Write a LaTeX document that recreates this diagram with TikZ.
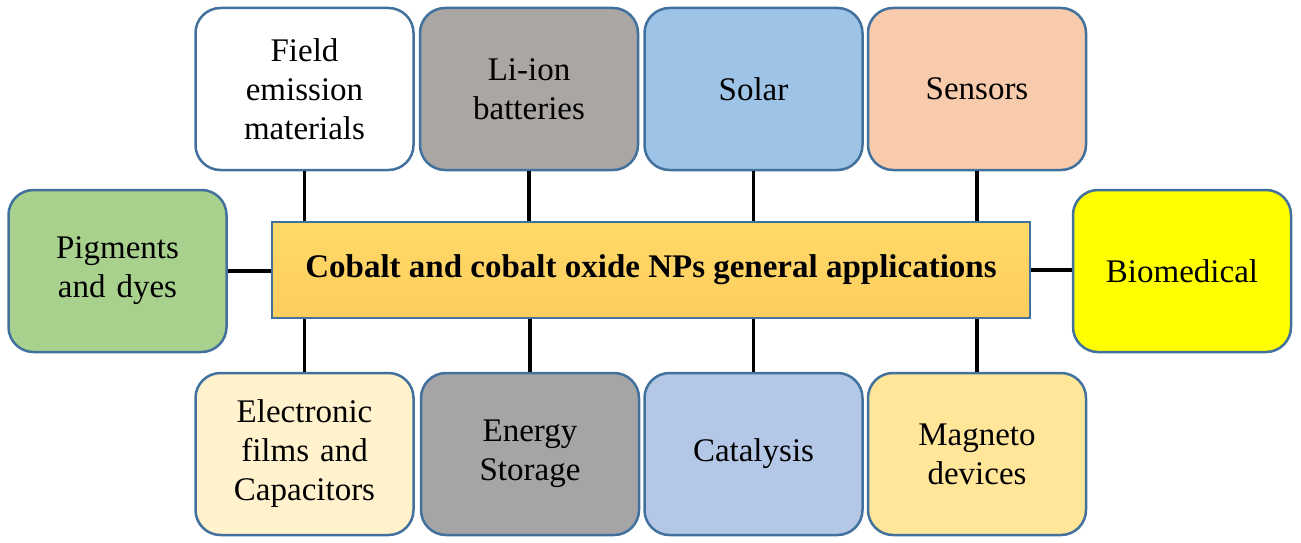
\documentclass[tikz,border=0pt]{standalone}
\usepackage{fontspec}
\setmainfont{Liberation Serif}
\definecolor{bordc}{HTML}{41719C}
\definecolor{cGray}{HTML}{A9A6A4}
\definecolor{cGrayB}{HTML}{A5A5A5}
\definecolor{cSolar}{HTML}{9DC3E6}
\definecolor{cSens}{HTML}{F8CBAD}
\definecolor{cPig}{HTML}{A9D18E}
\definecolor{cBio}{HTML}{FFFF00}
\definecolor{cElec}{HTML}{FFF2CC}
\definecolor{cCat}{HTML}{B4C7E7}
\definecolor{cMag}{HTML}{FFE699}
\definecolor{cCenT}{HTML}{FFDA68}
\definecolor{cCenB}{HTML}{FDCD5E}
\tikzset{
  appbox/.style={draw=bordc, line width=2.5pt, rounded corners=25pt,
    minimum width=218pt, minimum height=162pt, align=center,
    text width=200pt, font=\fontsize{33}{39}\selectfont, inner sep=0pt},
  hubbox/.style={draw=bordc, line width=2pt, top color=cCenT, bottom color=cCenB,
    minimum width=758pt, minimum height=96pt, inner sep=0pt,
    font=\fontsize{33}{39}\selectfont\bfseries},
  link/.style={line width=3.5pt, black}
}
\begin{document}
\begin{tikzpicture}[x=1pt,y=-1pt]
\useasboundingbox (0,0) rectangle (1301,543);
\node[hubbox] (hub) at (651,270) {Cobalt and cobalt oxide NPs general applications};
% top row
\node[appbox, fill=white] (field) at (304.5,89) {Field\\emission\\materials};
\node[appbox, fill=cGray] (liion) at (529,89) {Li-ion\\batteries};
\node[appbox, fill=cSolar] (solar) at (753.5,89) {Solar};
\node[appbox, fill=cSens] (sens) at (977,89) {Sensors};
% sides
\node[appbox, fill=cPig] (pig) at (117.5,271) {Pigments\\and dyes};
\node[appbox, fill=cBio] (bio) at (1182,271) {Biomedical};
% bottom row
\node[appbox, fill=cElec] (elec) at (304.5,454) {Electronic\\films and\\Capacitors};
\node[appbox, fill=cGrayB] (energy) at (530,454) {Energy\\Storage};
\node[appbox, fill=cCat] (cat) at (753.5,454) {Catalysis};
\node[appbox, fill=cMag] (mag) at (977,454) {Magneto\\devices};
% connectors
\foreach \n in {field,liion,solar,sens}
  \draw[link] (\n.south) -- (\n.south |- hub.north);
\foreach \n in {elec,energy,cat,mag}
  \draw[link] (\n.north) -- (\n.north |- hub.south);
\draw[link] (pig.east) -- (pig.east -| hub.west);
\draw[link] (hub.east) -- (hub.east -| bio.west);
\end{tikzpicture}
\end{document}
